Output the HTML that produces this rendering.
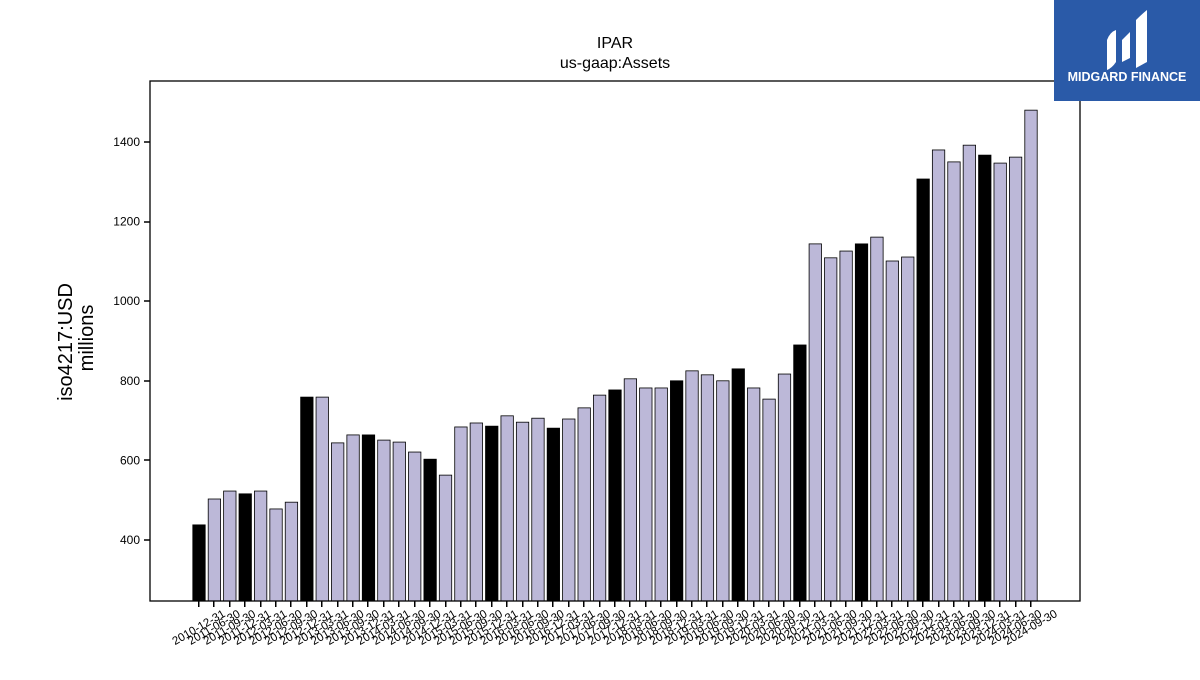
<!DOCTYPE html>
<html><head><meta charset="utf-8"><style>
body{margin:0;background:#fff;width:1200px;height:675px;overflow:hidden;font-family:"Liberation Sans","DejaVu Sans",sans-serif}
</style></head><body>
<svg width="1200" height="675" id="svg">
<text x="615" y="48" text-anchor="middle" font-size="16">IPAR</text>
<text x="615" y="68" text-anchor="middle" font-size="16">us-gaap:Assets</text>
<text transform="translate(72,342) rotate(-90)" text-anchor="middle" font-size="20">iso4217:USD</text>
<text transform="translate(93,338) rotate(-90)" text-anchor="middle" font-size="20">millions</text>
<g id="bars"></g><g id="yt"></g><g id="xt"></g>
<rect x="150" y="81" width="930" height="520" fill="none" stroke="#000" stroke-width="1.3"/>
<g>
<rect x="1054" y="0" width="146" height="101" fill="#2a5aa8"/>
<path d="M1107 70 L1107 40 Q1110 32 1116 30 L1116 62 Q1112 68 1107 70Z M1122 62 L1122 40 L1130 32 L1130 58Z M1136 68 L1136 20 Q1142 14 1147 10 L1147 62Z" fill="#fff"/>
<text x="1127" y="81" text-anchor="middle" font-size="12.5" font-weight="bold" fill="#fff">MIDGARD FINANCE</text>
</g>
</svg>
<script>
const dates=["2010-12-31","2011-06-30","2011-09-30","2011-12-31"];
for(let y=2012;y<=2024;y++){for(const q of ["03-31","06-30","09-30","12-31"]){if(y==2024&&q=="12-31")break;dates.push(y+"-"+q);}}
const values=[438,503,523,516,523,478,495,759,759,644,664,664,651,646,621,603,563,684,694,686,712,696,706,681,704,732,764,777,805,782,782,800,825,815,800,830,782,754,817,890,1144,1109,1126,1144,1161,1101,1111,1307,1380,1350,1392,1367,1347,1362,1480];
const yTicks=[400,600,800,1000,1200,1400];
const NS="http://www.w3.org/2000/svg";
const y=v=>540-(v-400)*0.398;
const x=i=>199+i*(832/(values.length-1));
const bars=document.getElementById('bars'),yt=document.getElementById('yt'),xt=document.getElementById('xt');
values.forEach((v,i)=>{
 const r=document.createElementNS(NS,'rect');
 
 
 const annual=dates[i].endsWith('12-31');
 r.setAttribute('x',x(i)-6.2);r.setAttribute('width',12.4);
 r.setAttribute('y',y(v));r.setAttribute('height',601-y(v));
 r.setAttribute('fill',annual?'#000':'#bcb8d8');r.setAttribute('stroke','#000');r.setAttribute('stroke-width','0.8');
 bars.appendChild(r);
 const t=document.createElementNS(NS,'rect');
 
 
 t.setAttribute('x',Math.round(x(i))-1);t.setAttribute('y',601);t.setAttribute('width',1.5);t.setAttribute('height',6);t.setAttribute('fill','#000');
 xt.appendChild(t);
 const l=document.createElementNS(NS,'text');
 
 
 l.setAttribute('transform',`translate(${x(i)},628) rotate(-30)`);
 l.setAttribute('text-anchor','middle');l.setAttribute('font-size','11.5');l.setAttribute('dominant-baseline','central');
 l.textContent=dates[i];xt.appendChild(l);
});
yTicks.forEach(v=>{
 const t=document.createElementNS(NS,'rect');
 
 
 t.setAttribute('x',144);t.setAttribute('y',Math.round(y(v))-0.75);t.setAttribute('width',6);t.setAttribute('height',1.5);t.setAttribute('fill','#000');
 yt.appendChild(t);
 const l=document.createElementNS(NS,'text');
 
 
 l.setAttribute('x',140);l.setAttribute('y',y(v)+4);l.setAttribute('text-anchor','end');l.setAttribute('font-size','12');
 l.textContent=v;yt.appendChild(l);
});
</script>
</body></html>
